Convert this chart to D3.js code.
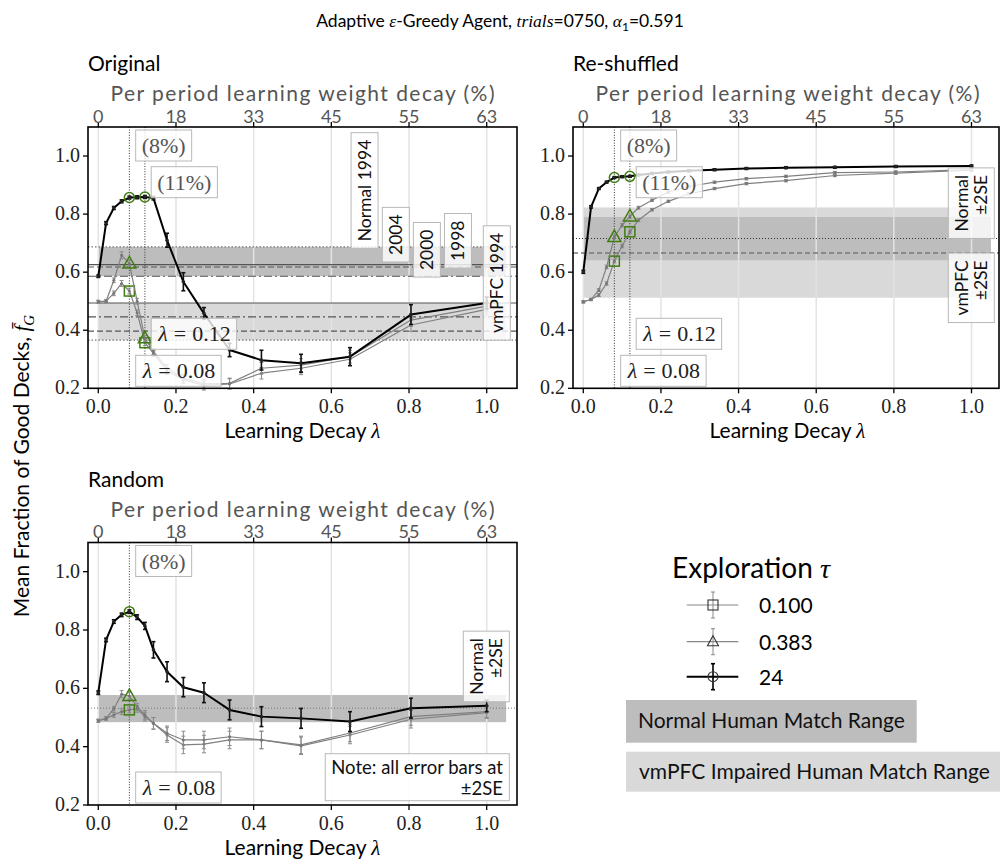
<!DOCTYPE html>
<html>
<head>
<meta charset="utf-8">
<script src="https://cdn.jsdelivr.net/npm/d3@7"></script>
<style>
  body { margin: 0; background: #fff; }
  svg { display: block; }
</style>
</head>
<body>
<script>
// ---- learning-decay grid and axis labels ----
const lambdas = [0, 0.02, 0.04, 0.06, 0.08, 0.10, 0.12, 0.142, 0.177, 0.219, 0.272, 0.338, 0.420, 0.522, 0.648, 0.805, 1.0];
const bottomTicks = [0, 0.2, 0.4, 0.6, 0.8, 1.0];
const topTickLabels = ["0", "18", "33", "45", "55", "63"];
const yTicks = [0.2, 0.4, 0.6, 0.8, 1.0];
const tauLabels = ["0.100", "0.383", "24"];

// ---- Original deck ----
const origT24     = [0.586, 0.769, 0.821, 0.844, 0.857, 0.858, 0.859, 0.855, 0.710, 0.567, 0.458, 0.332, 0.297, 0.286, 0.309, 0.454, 0.494];
const origT24Err  = [0.004, 0.005, 0.005, 0.005, 0.005, 0.005, 0.005, 0.006, 0.024, 0.031, 0.020, 0.023, 0.034, 0.031, 0.031, 0.034, 0.020];
const origT383    = [0.498, 0.500, 0.572, 0.658, 0.630, 0.500, 0.372, 0.326, 0.270, 0.235, 0.215, 0.217, 0.269, 0.280, 0.309, 0.435, 0.483];
const origT383Err = [0.005, 0.005, 0.008, 0.012, 0.010, 0.010, 0.010, 0.010, 0.012, 0.014, 0.016, 0.018, 0.020, 0.022, 0.022, 0.022, 0.020];
const origT010    = [0.498, 0.500, 0.527, 0.561, 0.535, 0.460, 0.357, 0.320, 0.260, 0.230, 0.210, 0.215, 0.252, 0.269, 0.300, 0.418, 0.472];
const origT010Err = [0.005, 0.005, 0.008, 0.010, 0.010, 0.010, 0.010, 0.010, 0.012, 0.014, 0.016, 0.018, 0.020, 0.022, 0.022, 0.022, 0.020];

// ---- Re-shuffled deck ----
const shufT24     = [0.601, 0.825, 0.888, 0.910, 0.926, 0.929, 0.930, 0.935, 0.940, 0.945, 0.949, 0.953, 0.957, 0.960, 0.961, 0.964, 0.966];
const shufT24Err  = [0.005, 0.004, 0.003, 0.003, 0.003, 0.003, 0.003, 0.003, 0.003, 0.003, 0.003, 0.003, 0.003, 0.003, 0.003, 0.003, 0.003];
const shufT383    = [0.498, 0.506, 0.538, 0.618, 0.721, 0.762, 0.792, 0.822, 0.848, 0.876, 0.895, 0.910, 0.922, 0.930, 0.943, 0.945, 0.953];
const shufT383Err = [0.004, 0.004, 0.005, 0.006, 0.006, 0.006, 0.005, 0.005, 0.004, 0.004, 0.004, 0.004, 0.004, 0.004, 0.004, 0.004, 0.004];
const shufT010    = [0.498, 0.506, 0.521, 0.561, 0.638, 0.690, 0.739, 0.779, 0.815, 0.844, 0.870, 0.888, 0.905, 0.915, 0.933, 0.941, 0.951];
const shufT010Err = [0.004, 0.004, 0.005, 0.006, 0.006, 0.006, 0.005, 0.005, 0.004, 0.004, 0.004, 0.004, 0.004, 0.004, 0.004, 0.004, 0.004];

// ---- Random deck ----
const randT24     = [0.585, 0.766, 0.829, 0.852, 0.863, 0.844, 0.814, 0.732, 0.657, 0.604, 0.585, 0.526, 0.503, 0.497, 0.486, 0.532, 0.540];
const randT24Err  = [0.006, 0.006, 0.006, 0.006, 0.006, 0.008, 0.012, 0.028, 0.034, 0.033, 0.034, 0.034, 0.034, 0.034, 0.034, 0.034, 0.020];
const randT383    = [0.489, 0.497, 0.530, 0.580, 0.574, 0.537, 0.509, 0.480, 0.446, 0.423, 0.423, 0.434, 0.423, 0.406, 0.447, 0.503, 0.520];
const randT383Err = [0.005, 0.006, 0.008, 0.012, 0.012, 0.012, 0.015, 0.020, 0.025, 0.030, 0.030, 0.030, 0.030, 0.030, 0.030, 0.030, 0.020];
const randT010    = [0.489, 0.497, 0.509, 0.520, 0.526, 0.530, 0.503, 0.480, 0.440, 0.406, 0.409, 0.423, 0.423, 0.403, 0.440, 0.494, 0.517];
const randT010Err = [0.005, 0.006, 0.008, 0.010, 0.010, 0.012, 0.015, 0.020, 0.025, 0.030, 0.030, 0.030, 0.030, 0.030, 0.030, 0.030, 0.020];

// ---- human reference ranges ----
const origNormalRange = [0.586, 0.687];
const origVmpfcRange  = [0.366, 0.494];
const origNormalStudies = [0.626, 0.618, 0.586, 0.687];   // 1994, 2004, 2000, 1998
const origVmpfcStudies  = [0.494, 0.397, 0.446, 0.366];
const shufNormalRange = [0.641, 0.790];
const shufVmpfcRange  = [0.512, 0.823];
const shufNormalMean = 0.716;
const shufVmpfcMean  = 0.666;
const randNormalRange = [0.484, 0.577];
const randNormalMean = 0.532;

// ---- fonts and colours ----
const SANS = "Lato, 'Noto Sans', sans-serif";
const SERIF = "'Liberation Serif', 'DejaVu Serif', serif";
const GREEN = "#3f7d10";
const NORMAL_FILL = "#bdbdbd";
const VMPFC_FILL = "#d9d9d9";
const studyDash = ["none", "6,3", "8,3,2,3", "1.5,2"];

const W = 1000, H = 862;
const svg = d3.select("body").append("svg").attr("width", W).attr("height", H)
  .attr("font-family", SANS);

// A text inside a padded, half-transparent box; the box is placed by its outer edges.
function boxLabel(parent, opts, build) {
  const g = parent.append("g");
  const inner = g.append("g").attr("transform", `rotate(${opts.rotate || 0})`);
  const t = inner.append("g");
  build(t);
  const bb = t.node().getBBox();
  const px = opts.padX ?? 6, py = opts.padY ?? 3;
  inner.insert("rect", ":first-child")
    .attr("x", bb.x - px).attr("y", bb.y - py)
    .attr("width", bb.width + 2 * px).attr("height", bb.height + 2 * py)
    .attr("fill", opts.fill || "#fff").attr("fill-opacity", opts.fillOpacity ?? 0.8)
    .attr("stroke", opts.stroke || "#b8b8b8").attr("stroke-width", 1);
  const ob = g.node().getBBox();
  let dx = 0, dy = 0;
  if (opts.left != null) dx = opts.left - ob.x;
  if (opts.right != null) dx = opts.right - (ob.x + ob.width);
  if (opts.cx != null) dx = opts.cx - (ob.x + ob.width / 2);
  if (opts.top != null) dy = opts.top - ob.y;
  if (opts.bottom != null) dy = opts.bottom - (ob.y + ob.height);
  g.attr("transform", `translate(${dx},${dy})`);
  return g;
}

function lambdaText(t, val) {
  const tx = t.append("text").attr("font-family", SERIF).attr("font-size", 22).attr("fill", "#222");
  tx.append("tspan").attr("font-style", "italic").text("λ");
  tx.append("tspan").attr("dx", 6).text("=");
  tx.append("tspan").attr("dx", 6).text(val);
}

function drawPanel(p) {
  const g = svg.append("g");
  const f = p.frame;
  const x = d3.scaleLinear().domain([0, 1]).range([p.x0, p.x1]);
  const y = d3.scaleLinear().domain([0.2, 1.1]).range([f.bottom, f.top]);

  // shaded human match ranges
  (p.bands || []).forEach(b => {
    g.append("rect").attr("x", x(0)).attr("width", x(1.05) - x(0))
      .attr("y", y(b.range[1])).attr("height", y(b.range[0]) - y(b.range[1]))
      .attr("fill", b.fill);
  });

  // vertical grid
  g.append("g").selectAll("line").data(bottomTicks).join("line")
    .attr("x1", d => x(d)).attr("x2", d => x(d)).attr("y1", f.top).attr("y2", f.bottom)
    .attr("stroke", "#e3e3e3").attr("stroke-width", 1.5);

  // study reference lines across the whole axes
  (p.refLines || []).forEach(r => {
    g.append("line").attr("x1", f.left).attr("x2", f.right)
      .attr("y1", y(r.value)).attr("y2", y(r.value))
      .attr("stroke", r.color || "#555").attr("stroke-width", r.width || 1.1)
      .attr("stroke-dasharray", r.dash);
  });

  // highlighted decay values
  p.markLambdas.forEach(l => {
    g.append("line").attr("x1", x(l)).attr("x2", x(l)).attr("y1", f.top).attr("y2", f.bottom)
      .attr("stroke", "#333").attr("stroke-width", 1).attr("stroke-dasharray", "1,1.6");
  });

  const line = d3.line().x(d => x(d[0])).y(d => y(d[1]));
  const series = [
    { vals: p.s010, err: p.e010, color: "#808080", width: 1.2, marker: "square" },
    { vals: p.s383, err: p.e383, color: "#808080", width: 1.2, marker: "triangle" },
    { vals: p.s24,  err: p.e24,  color: "#000",    width: 2.0, marker: "circle" }
  ];
  series.forEach(s => {
    const pts = lambdas.map((l, i) => [l, s.vals[i], s.err[i]]);
    const sg = g.append("g");
    // error bars (±2SE)
    pts.forEach(d => {
      const ex = x(d[0]), y1 = y(d[1] - d[2]), y2 = y(d[1] + d[2]);
      const ew = s.marker === "circle" ? 1.6 : 1;
      const col = s.marker === "circle" ? "#111" : "#8a8a8a";
      sg.append("line").attr("x1", ex).attr("x2", ex).attr("y1", y1).attr("y2", y2)
        .attr("stroke", col).attr("stroke-width", ew);
      [y1, y2].forEach(yy => sg.append("line").attr("x1", ex - 2).attr("x2", ex + 2)
        .attr("y1", yy).attr("y2", yy).attr("stroke", col).attr("stroke-width", ew));
    });
    sg.append("path").attr("d", line(pts)).attr("fill", "none")
      .attr("stroke", s.color).attr("stroke-width", s.width).attr("stroke-linejoin", "round");
    sg.selectAll("circle.pt").data(pts).join("circle").attr("class", "pt")
      .attr("cx", d => x(d[0])).attr("cy", d => y(d[1])).attr("r", s.marker === "circle" ? 1.8 : 1.5)
      .attr("fill", s.marker === "circle" ? "#222" : "#777");
    // green markers at the highlighted decay values
    p.markLambdas.forEach(l => {
      const i = lambdas.indexOf(l);
      const cx = x(l), cy = y(s.vals[i]);
      if (s.marker === "circle") {
        g.append("circle").attr("cx", cx).attr("cy", cy).attr("r", 5)
          .attr("fill", "none").attr("stroke", GREEN).attr("stroke-width", 1.5);
      } else if (s.marker === "square") {
        g.append("rect").attr("x", cx - 5).attr("y", cy - 5).attr("width", 10).attr("height", 10)
          .attr("fill", "none").attr("stroke", GREEN).attr("stroke-width", 1.5);
      } else {
        g.append("path").attr("d", `M${cx},${cy - 7} L${cx + 6.5},${cy + 4.5} L${cx - 6.5},${cy + 4.5} Z`)
          .attr("fill", "none").attr("stroke", GREEN).attr("stroke-width", 1.5);
      }
    });
  });

  // percentage labels and lambda labels next to the dotted lines
  p.markLambdas.forEach((l, k) => {
    const pct = Math.round((1 - Math.exp(-l)) * 100);
    boxLabel(g, { left: x(l) + 6.3, top: f.top + 3 + k * 36.7, padX: 6, padY: 3 }, t => {
      t.append("text").attr("font-family", SERIF).attr("font-size", 22).attr("fill", "#555")
        .text(`(${pct}%)`);
    });
  });
  p.markLambdas.forEach((l, k) => {
    const bottom = k === 0 ? f.bottom - 2 : f.bottom - 39;
    boxLabel(g, { left: x(l) + 6.3, bottom: bottom, padX: 6, padY: 3 }, t => lambdaText(t, l.toFixed(2)));
  });

  // rotated study labels
  (p.studyLabels || []).forEach(s => {
    const o = { rotate: -90, padX: 7, padY: 3 };
    if (s.at != null) o.cx = x(s.at);
    if (s.rightInset != null) o.right = f.right - s.rightInset;
    if (s.base != null) o.bottom = y(s.base);
    if (s.topAt != null) o.top = y(s.topAt);
    boxLabel(g, o, t => {
      s.lines.forEach((ln, i) => {
        t.append("text").attr("font-size", 17.5).attr("fill", "#111")
          .attr("text-anchor", s.lines.length > 1 ? "end" : "start")
          .attr("y", i * 19).text(ln);
      });
    });
  });

  if (p.note) {
    boxLabel(g, { right: f.right - 7.7, bottom: f.bottom - 4.3, padX: 6, padY: 2, fillOpacity: 0.9 }, t => {
      t.append("text").attr("font-size", 18.5).attr("text-anchor", "end").attr("fill", "#111")
        .text("Note: all error bars at");
      t.append("text").attr("font-size", 18.5).attr("text-anchor", "end").attr("y", 21).attr("fill", "#111")
        .text("±2SE");
    });
  }

  // frame
  g.append("rect").attr("x", f.left).attr("y", f.top).attr("width", f.right - f.left)
    .attr("height", f.bottom - f.top).attr("fill", "none").attr("stroke", "#000").attr("stroke-width", 1.6);

  // bottom axis
  bottomTicks.forEach(t => {
    g.append("line").attr("x1", x(t)).attr("x2", x(t)).attr("y1", f.bottom).attr("y2", f.bottom + 5)
      .attr("stroke", "#000").attr("stroke-width", 1.3);
    g.append("text").attr("x", x(t)).attr("y", f.bottom + 25).attr("text-anchor", "middle")
      .attr("font-family", SERIF).attr("font-size", 20).attr("fill", "#222").text(t.toFixed(1));
  });
  // top axis: per-period weight decay
  bottomTicks.forEach((t, i) => {
    g.append("line").attr("x1", x(t)).attr("x2", x(t)).attr("y1", f.top).attr("y2", f.top - 5)
      .attr("stroke", "#000").attr("stroke-width", 1.3);
    g.append("text").attr("x", x(t)).attr("y", f.top - 4.5).attr("text-anchor", "middle")
      .attr("font-size", 18).attr("fill", "#555").text(topTickLabels[i]);
  });
  // left axis
  yTicks.forEach(t => {
    g.append("line").attr("x1", f.left).attr("x2", f.left - 5).attr("y1", y(t)).attr("y2", y(t))
      .attr("stroke", "#000").attr("stroke-width", 1.3);
    g.append("text").attr("x", f.left - 8).attr("y", y(t) + 6).attr("text-anchor", "end")
      .attr("font-family", SERIF).attr("font-size", 20).attr("fill", "#222").text(t.toFixed(1));
  });

  const axisMid = f.left + 214.5;
  g.append("text").attr("x", axisMid - 20).attr("y", f.top - 26).attr("text-anchor", "start")
    .attr("x", axisMid - 192).attr("textLength", 384).attr("lengthAdjust", "spacing")
    .attr("font-size", 21).attr("fill", "#555").text("Per period learning weight decay (%)");
  g.append("text").attr("x", f.left).attr("y", f.top - 56).attr("font-size", 21).attr("fill", "#000")
    .text(p.name);
  const xl = g.append("text").attr("x", axisMid).attr("y", f.bottom + 50)
    .attr("text-anchor", "middle").attr("font-size", 21).attr("fill", "#000");
  xl.append("tspan").text("Learning Decay ");
  xl.append("tspan").attr("font-family", SERIF).attr("font-style", "italic").text("λ");
}

drawPanel({
  name: "Original",
  frame: { left: 88, right: 517, top: 127, bottom: 388.3 }, x0: 98.3, x1: 486.7,
  s24: origT24, e24: origT24Err, s383: origT383, e383: origT383Err, s010: origT010, e010: origT010Err,
  markLambdas: [0.08, 0.12],
  bands: [{ range: origNormalRange, fill: NORMAL_FILL }, { range: origVmpfcRange, fill: VMPFC_FILL }],
  refLines: [
    ...origNormalStudies.map((v, i) => ({ value: v, dash: studyDash[i], color: i === 3 ? "#777" : "#555" })),
    ...origVmpfcStudies.map((v, i) => ({ value: v, dash: studyDash[i], color: i === 3 ? "#777" : "#555" }))
  ],
  studyLabels: [
    { lines: ["Normal 1994"], at: 0.6855, base: 0.682 },
    { lines: ["2004"], at: 0.766, base: 0.635 },
    { lines: ["2000"], at: 0.846, base: 0.583 },
    { lines: ["1998"], at: 0.926, base: 0.614 },
    { lines: ["vmPFC 1994"], at: 1.026, base: 0.366 }
  ]
});

drawPanel({
  name: "Re-shuffled",
  frame: { left: 573, right: 999, top: 127, bottom: 388.3 }, x0: 583.3, x1: 971.5,
  s24: shufT24, e24: shufT24Err, s383: shufT383, e383: shufT383Err, s010: shufT010, e010: shufT010Err,
  markLambdas: [0.08, 0.12],
  bands: [{ range: shufVmpfcRange, fill: VMPFC_FILL }, { range: shufNormalRange, fill: NORMAL_FILL }],
  refLines: [
    { value: shufNormalMean, dash: "1,2", color: "#333", width: 1 },
    { value: shufVmpfcMean, dash: "5,3", color: "#777", width: 1.5 }
  ],
  studyLabels: [
    { lines: ["Normal", "±2SE"], rightInset: 4.7, base: shufNormalMean },
    { lines: ["vmPFC", "±2SE"], rightInset: 4.7, topAt: shufVmpfcMean }
  ]
});

drawPanel({
  name: "Random",
  frame: { left: 88, right: 517, top: 542.5, bottom: 805 }, x0: 98.3, x1: 486.7,
  s24: randT24, e24: randT24Err, s383: randT383, e383: randT383Err, s010: randT010, e010: randT010Err,
  markLambdas: [0.08],
  bands: [{ range: randNormalRange, fill: NORMAL_FILL }],
  refLines: [{ value: randNormalMean, dash: "1,2", color: "#777", width: 1 }],
  studyLabels: [{ lines: ["Normal", "±2SE"], rightInset: 7.7, base: 0.554 }],
  note: true
});

// figure title
const title = svg.append("text").attr("x", 500).attr("y", 27).attr("text-anchor", "middle")
  .attr("font-size", 17.5).attr("fill", "#000");
title.append("tspan").text("Adaptive ");
title.append("tspan").attr("font-family", SERIF).attr("font-style", "italic").text("ε");
title.append("tspan").text("-Greedy Agent, ");
title.append("tspan").attr("font-family", SERIF).attr("font-style", "italic").text("trials");
title.append("tspan").text("=0750, ");
title.append("tspan").attr("font-family", SERIF).attr("font-style", "italic").text("α");
title.append("tspan").attr("font-size", 12).attr("dy", 4).text("1");
title.append("tspan").attr("dy", -4).text("=0.591");

// shared y label
const yl = svg.append("text").attr("transform", "translate(29,466) rotate(-90)")
  .attr("text-anchor", "middle").attr("font-size", 21).attr("fill", "#000");
yl.append("tspan").text("Mean Fraction of Good Decks, ");
yl.append("tspan").attr("font-family", SERIF).attr("font-style", "italic").text("f\u0304");
yl.append("tspan").attr("font-family", SERIF).attr("font-style", "italic").attr("font-size", 15).attr("dy", 5).text("G");

// legend
const lg = svg.append("g");
const et = lg.append("text").attr("x", 751).attr("y", 578).attr("text-anchor", "middle")
  .attr("font-size", 28).attr("fill", "#000");
et.append("tspan").text("Exploration ");
et.append("tspan").attr("font-family", SERIF).attr("font-style", "italic").text("τ");
const legRows = [605, 641.7, 676.7];
tauLabels.forEach((lab, i) => {
  const cy = legRows[i], cx = 713;
  const dark = i === 2;
  const col = dark ? "#000" : "#888";
  lg.append("line").attr("x1", 686.7).attr("x2", 738.3).attr("y1", cy).attr("y2", cy)
    .attr("stroke", col).attr("stroke-width", dark ? 2 : 1.2);
  lg.append("line").attr("x1", cx).attr("x2", cx).attr("y1", cy - 13).attr("y2", cy + 13)
    .attr("stroke", dark ? "#000" : "#888").attr("stroke-width", dark ? 1.6 : 1);
  [cy - 13, cy + 13].forEach(yy => lg.append("line").attr("x1", cx - 2).attr("x2", cx + 2)
    .attr("y1", yy).attr("y2", yy).attr("stroke", dark ? "#000" : "#888").attr("stroke-width", dark ? 1.6 : 1));
  if (i === 0) lg.append("rect").attr("x", cx - 5).attr("y", cy - 5).attr("width", 10).attr("height", 10)
    .attr("fill", "none").attr("stroke", "#333").attr("stroke-width", 1.1);
  if (i === 1) lg.append("path").attr("d", `M${cx},${cy - 6} L${cx + 5.5},${cy + 4} L${cx - 5.5},${cy + 4} Z`)
    .attr("fill", "none").attr("stroke", "#333").attr("stroke-width", 1.1);
  if (i === 2) lg.append("circle").attr("cx", cx).attr("cy", cy).attr("r", 5)
    .attr("fill", "none").attr("stroke", "#333").attr("stroke-width", 1.1);
  lg.append("text").attr("x", 759).attr("y", cy + 8).attr("font-size", 21).attr("fill", "#000").text(lab);
});
lg.append("rect").attr("x", 626).attr("y", 700).attr("width", 290.7).attr("height", 42.7).attr("fill", NORMAL_FILL);
lg.append("text").attr("x", 638).attr("y", 728).attr("font-size", 21).attr("fill", "#111").text("Normal Human Match Range");
lg.append("rect").attr("x", 626).attr("y", 751.7).attr("width", 374).attr("height", 40).attr("fill", VMPFC_FILL);
lg.append("text").attr("x", 639).attr("y", 779).attr("font-size", 21).attr("fill", "#111").text("vmPFC Impaired Human Match Range");
</script>
</body>
</html>
